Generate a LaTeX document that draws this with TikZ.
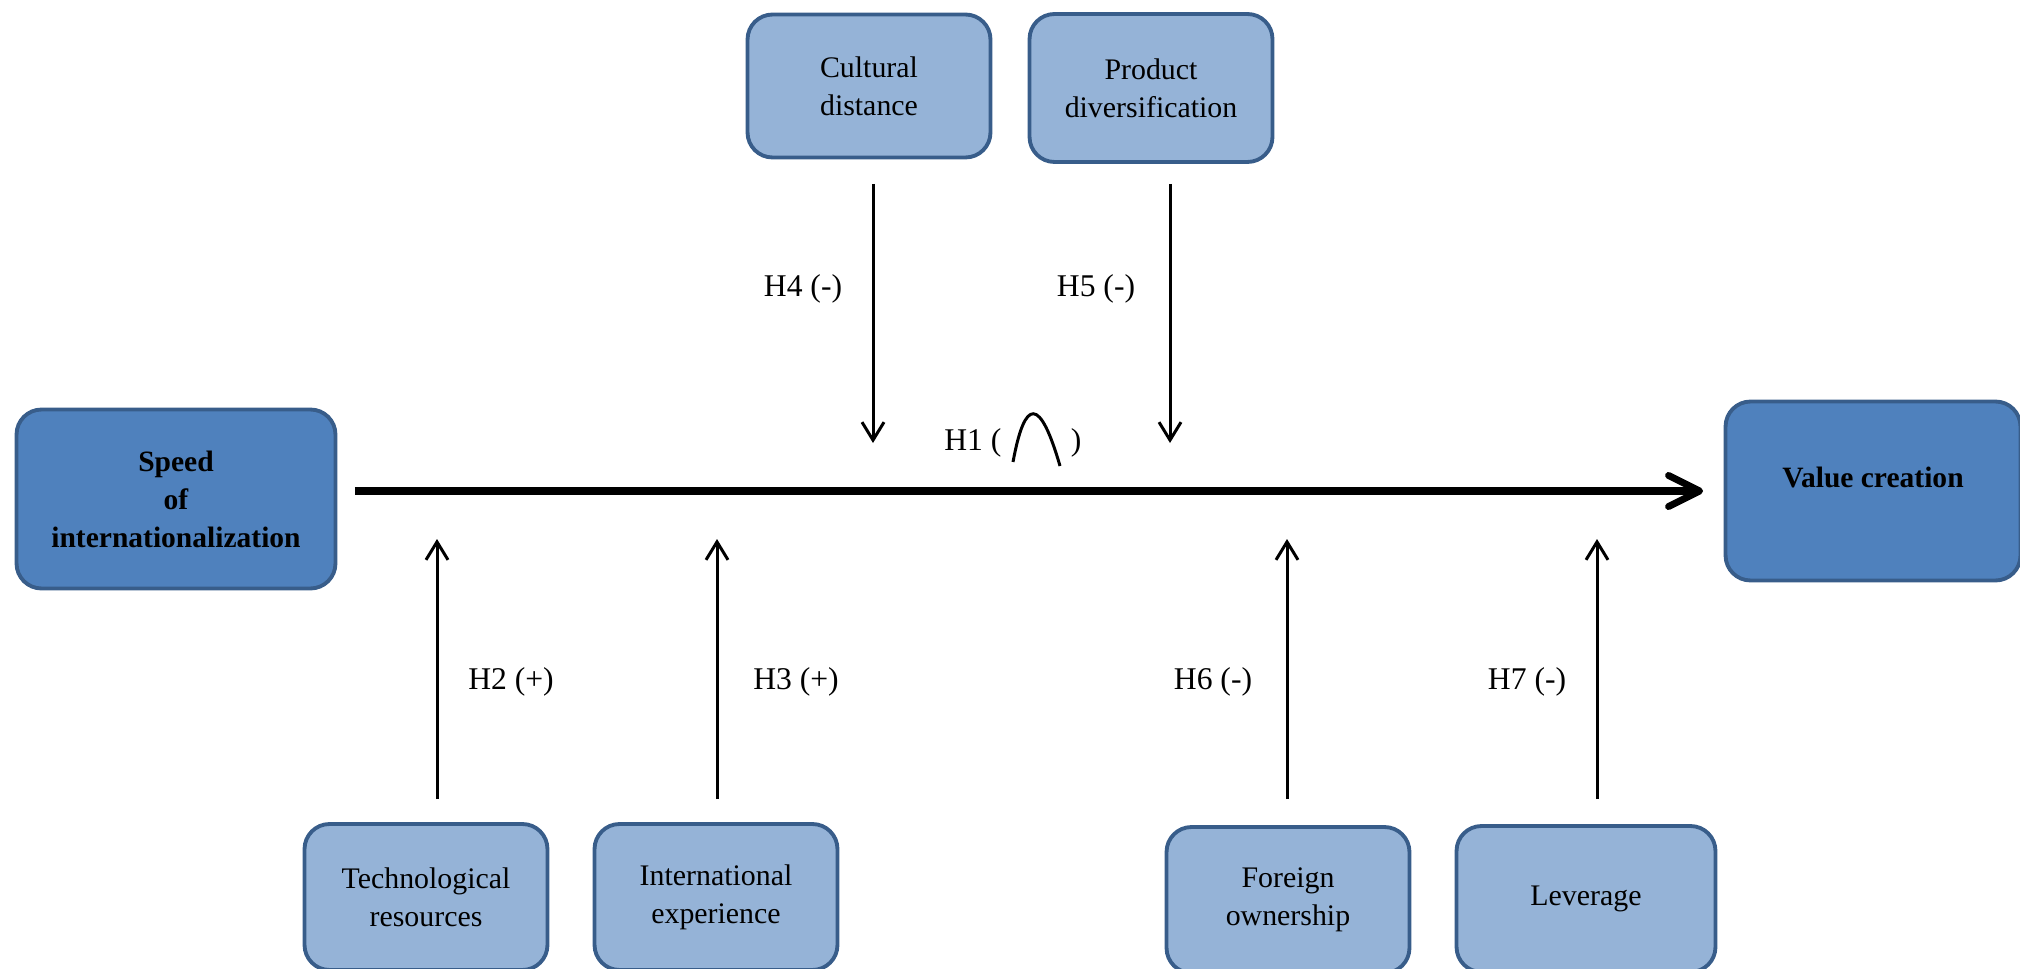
\documentclass[tikz,border=0pt]{standalone}
\usepackage{fontspec}
\setmainfont{Liberation Serif}
\usepackage{tikz}
\usetikzlibrary{arrows.meta,positioning}
\definecolor{boxfill}{HTML}{95B3D7}
\definecolor{mainfill}{HTML}{4F81BD}
\definecolor{boxline}{HTML}{385D8A}

\begin{document}
\begin{tikzpicture}[
x=0.02cm, y=-0.02cm,
box/.style={draw=boxline, line width=2.2pt, rounded corners=0.5cm, fill=boxfill, align=center, font=\fontsize{17}{21.6}\selectfont, minimum width=4.86cm, minimum height=2.92cm},
mainbox/.style={box, fill=mainfill, font=\fontsize{16.8}{21.6}\selectfont\bfseries, minimum height=3.58cm},
arr/.style={-{Straight Barb[length=0.36cm, width=0.44cm]}, line width=1.7pt},
mainarr/.style={-{Straight Barb[round, length=0.62cm, width=0.62cm]}, line width=4pt},
lbl/.style={font=\fontsize{18}{21.6}\selectfont, inner sep=0pt}
]
\useasboundingbox (0,0) rectangle (2020,969);
\node[mainbox, minimum width=6.38cm] (speed) at (176,499) {Speed\\ of\\ internationalization};
\node[mainbox, minimum width=5.9cm, text depth=0.55cm] (value) at (1873,491) {Value creation};
\node[box, minimum height=2.86cm] (cult) at (869,86) {Cultural\\ distance};
\node[box, minimum height=2.96cm] (prod) at (1151,88) {Product\\ diversification};
\node[box] (tech) at (426,897) {Technological\\ resources};
\node[box] (intl) at (716,897) {International\\ experience};
\node[box] (foreign) at (1288,900) {Foreign\\ ownership};
\node[box, minimum width=5.18cm] (lev) at (1586,899) {Leverage};
% main relation
\draw[mainarr, shorten <=0.35cm, shorten >=0.41cm] (speed.east |- value.west) -- (value.west);
\node[lbl, anchor=base west] (h1) at (944,450) {H1 (\hspace{2.2em})};
\draw[line width=1.7pt] (1013,462) .. controls (1025,397) and (1040,397) .. (1060,466);
% moderators
\coordinate (h4top) at (873,184);
\coordinate (h4tip) at (873,443);
\coordinate (h5top) at (1170,184);
\coordinate (h5tip) at (1170,443);
\coordinate (h2bot) at (437,799);
\coordinate (h2tip) at (437,539);
\coordinate (h3bot) at (717,799);
\coordinate (h3tip) at (717,539);
\coordinate (h6bot) at (1287,799);
\coordinate (h6tip) at (1287,539);
\coordinate (h7bot) at (1597,799);
\coordinate (h7tip) at (1597,539);
\draw[arr] (h4top) -- (h4tip);
\draw[arr] (h5top) -- (h5tip);
\draw[arr] (h2bot) -- (h2tip);
\draw[arr] (h3bot) -- (h3tip);
\draw[arr] (h6bot) -- (h6tip);
\draw[arr] (h7bot) -- (h7tip);
\node[lbl] (h4) at (803,289) {H4 (-)};
\node[lbl] (h5) at (1096,289) {H5 (-)};
\node[lbl] (h2) at (511,682) {H2 (+)};
\node[lbl] (h3) at (796,682) {H3 (+)};
\node[lbl] (h6) at (1213,682) {H6 (-)};
\node[lbl] (h7) at (1527,682) {H7 (-)};
\end{tikzpicture}
\end{document}
